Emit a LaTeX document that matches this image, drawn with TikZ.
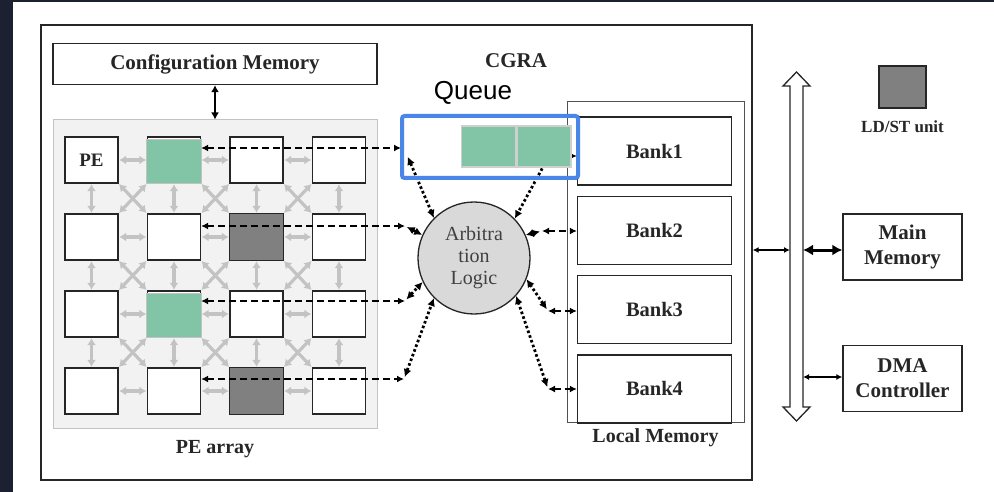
\documentclass[tikz,border=0pt]{standalone}
\usepackage{fontspec}
\setmainfont{Liberation Serif}
\setsansfont{Liberation Sans}
\usetikzlibrary{positioning,arrows.meta,calc}
\definecolor{frame}{HTML}{1B2130}
\definecolor{boxline}{HTML}{262626}
\definecolor{pegreen}{HTML}{82C5A6}
\definecolor{ldst}{HTML}{808080}
\definecolor{linkgray}{HTML}{C3C3C3}
\definecolor{arraybg}{HTML}{F2F2F2}
\definecolor{arbfill}{HTML}{D9D9D9}
\definecolor{qblue}{HTML}{4A86E8}
\tikzset{
    box/.style={draw=boxline,line width=1.3pt,fill=white,inner sep=0pt,align=center,text=boxline,font=\bfseries\fontsize{21}{25}\selectfont},
    pe/.style={box,minimum width=53pt,minimum height=46pt},
    bank/.style={box,minimum width=154pt,minimum height=68pt,font=\bfseries\fontsize{20.5}{24}\selectfont},
    lbl/.style={inner sep=0pt,text=boxline,font=\bfseries\fontsize{20}{24}\selectfont},
    link/.style={draw=linkgray,line width=3.2pt,{Latex[length=7pt,width=9pt]}-{Latex[length=7pt,width=9pt]},shorten <=0.5pt,shorten >=0.5pt},
    dashlink/.style={draw=black,line width=2pt,dash pattern=on 7pt off 4pt,{Latex[length=7pt,width=7pt]}-{Latex[length=7pt,width=7pt]}},
    dotlink/.style={draw=black,line width=2.8pt,dash pattern=on 2.6pt off 2.4pt,{Latex[length=8pt,width=8pt]}-{Latex[length=8pt,width=8pt]},shorten <=2pt},
    busthin/.style={draw=black,line width=1.6pt,{Latex[length=6pt,width=6pt]}-{Latex[length=6pt,width=6pt]}},
    busthick/.style={draw=black,line width=3pt,{Latex[length=10pt,width=11pt]}-{Latex[length=10pt,width=11pt]}},
}
\begin{document}
\begin{tikzpicture}[x=1pt,y=-1pt]
    \useasboundingbox (0,0) rectangle (994,492);
    \fill[white] (0,0) rectangle (994,492);
    \fill[frame] (0,0) rectangle (13,492);
    \fill[frame] (0,0) rectangle (994,2.5);

    % CGRA block
    \node[draw=boxline,line width=1.4pt,minimum width=711pt,minimum height=455pt,inner sep=0pt] (cgra) at (396.5,252.5) {};
    \node[lbl,font=\bfseries\fontsize{21}{25}\selectfont] at (516,61) {CGRA};

    \node[box,minimum width=324pt,minimum height=41pt] (cfg) at (215,64) {Configuration Memory};
    \node[draw=linkgray,fill=arraybg,line width=1pt,minimum width=324pt,minimum height=308pt] (pearray) at (215,274) {};
    \node[lbl,below=12pt of pearray] {PE array};
    \draw[line width=2.4pt,{Latex[length=7pt,width=8pt]}-{Latex[length=7pt,width=8pt]}] (cfg) -- (pearray);

    % PE grid
    \foreach \r in {1,...,4}
        \foreach \c in {1,...,4}
            \node[pe] (pe\r\c) at ({91.5+82.5*(\c-1)},{160+77*(\r-1)}) {};
    \node[lbl,font=\bfseries\fontsize{19}{22}\selectfont] at (pe11) {PE};
    \foreach \u in {pe23,pe43}
        \draw[boxline,line width=1.3pt,fill=ldst] (\u.north west) rectangle (\u.south east);
    \foreach \u in {pe12,pe32}
        \draw[draw=linkgray,line width=1pt,fill=pegreen] ([yshift=-3pt]\u.north west) rectangle (\u.south east);

    \foreach \r in {1,...,4}
        \foreach \c [count=\d from 2] in {1,2,3}
            \draw[link] (pe\r\c) -- (pe\r\d);
    \foreach \r [count=\s from 2] in {1,2,3}
        \foreach \c in {1,...,4}
            \draw[link] (pe\r\c) -- (pe\s\c);
    \foreach \r [count=\s from 2] in {1,2,3}
        \foreach \c [count=\d from 2] in {1,2,3} {
            \draw[link] (pe\r\c.south east) -- (pe\s\d.north west);
            \draw[link] (pe\r\d.south west) -- (pe\s\c.north east);
        }

    % rows to the arbiter
    \coordinate (j1) at (401,148);
    \coordinate (j2) at (405,226);
    \coordinate (j3) at (405,301);
    \coordinate (j4) at (404,379);
    \foreach \r in {1,...,4}
        \draw[dashlink] (pe\r2.east |- j\r) -- (j\r);

    \node[circle,draw=boxline,line width=1.3pt,fill=arbfill,minimum size=112pt,inner sep=0pt,align=center,text=black!75,font=\fontsize{20}{22}\selectfont] (arb) at (474,258) {Arbitra\\tion\\Logic};

    % local memory
    \node[draw=boxline!80,line width=1pt,minimum width=177pt,minimum height=320pt] (lmem) at (655.5,262) {};
    \node[lbl,below=6pt of lmem] {Local Memory};
    \node[bank] (bank1) at (654.5,151) {Bank1};
    \node[bank,below=10pt of bank1] (bank2) {Bank2};
    \node[bank,below=10pt of bank2] (bank3) {Bank3};
    \node[bank,below=10pt of bank3] (bank4) {Bank4};

    \coordinate (q1) at (407,155);
    \draw[dotlink] (q1) -- (arb.135);
    \draw[dotlink] (j2) -- (arb.156);
    \draw[dotlink] (j3) -- (arb.205);
    \draw[dotlink] (j4) -- (arb.225);

    \coordinate (k1) at (549,156);
    \coordinate (k2) at (542,231);
    \coordinate (k3) at (548,311);
    \coordinate (k4) at (548,389);
    \foreach \i in {1,...,4}
        \draw[dashlink] (k\i) -- (bank\i.west |- k\i);
    \draw[dotlink] (k1) -- (arb.44);
    \draw[dotlink] (k2) -- (arb.24);
    \draw[dotlink] (k3) -- (arb.338);
    \draw[dotlink] (k4) -- (arb.318);

    % queue
    \node[draw=qblue,line width=4pt,rounded corners=2.5pt,minimum width=176pt,minimum height=62pt] (queue) at (490,147) {};
    \node[draw=linkgray!80,line width=1.5pt,fill=pegreen,minimum width=54pt,minimum height=41pt,inner sep=0pt] (qcell2) at (544,146.5) {};
    \node[draw=linkgray!80,line width=1.5pt,fill=pegreen,minimum width=54pt,minimum height=41pt,inner sep=0pt,left=0pt of qcell2] (qcell1) {};
    \node[font=\sffamily\fontsize{26}{30}\selectfont,inner sep=0pt] at (473,93) {Queue};

    % system bus
    \draw[boxline,line width=1.3pt,fill=white] (790,86) -- (783,86) -- (796.5,72) -- (810,86) -- (803,86) -- (803,407) -- (810,407) -- (796.5,421) -- (783,407) -- (790,407) -- cycle;
    \coordinate (busw) at (790,250);
    \coordinate (buse) at (803,250);
    \coordinate (busd) at (803,377);

    \node[box,minimum width=119pt,minimum height=66pt] (mainmem) at (902.5,247) {Main\\Memory};
    \node[box,minimum width=119pt,minimum height=66pt,below=64pt of mainmem] (dma) {DMA\\Controller};
    \draw[busthin] (cgra.east |- busw) -- (busw);
    \draw[busthick] (buse) -- (mainmem.west |- buse);
    \draw[busthin] (busd) -- (dma.west |- busd);

    % legend
    \node[draw=boxline,line width=1.3pt,fill=ldst,minimum width=47pt,minimum height=42pt] (legend) at (902.5,87) {};
    \node[lbl,font=\bfseries\fontsize{17}{20}\selectfont,below=12pt of legend] {LD/ST unit};
\end{tikzpicture}
\end{document}
